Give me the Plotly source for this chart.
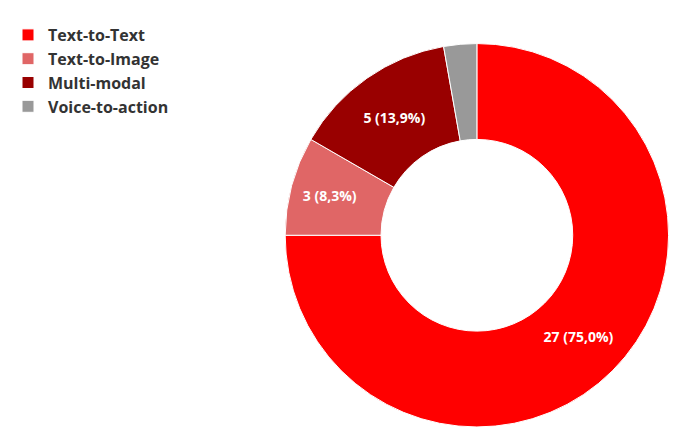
import plotly.graph_objects as go

categories = ["Text-to-Text", "Text-to-Image", "Multi-modal", "Voice-to-action"]
values = [27, 3, 5, 1]
labels = ["27 (75,0%)", "3 (8,3%)", "5 (13,9%)", ""]
colors = ["#ff0000", "#e06666", "#990000", "#999999"]

fig = go.Figure(go.Pie(
    labels=categories,
    values=values,
    text=labels,
    textinfo="text",
    textposition="inside",
    insidetextorientation="horizontal",
    textfont=dict(color="white", size=14, family="Open Sans", weight="bold"),
    marker=dict(colors=colors, line=dict(color="white", width=1)),
    hole=0.5,
    sort=False,
    direction="clockwise",
    rotation=0,
    domain=dict(x=[0.37, 0.995], y=[0.04, 0.94]),
))

fig.update_layout(
    width=687, height=441,
    margin=dict(l=0, r=0, t=10, b=5),
    paper_bgcolor="white",
    font=dict(family="Open Sans", size=16, color="#333333"),
    legend=dict(x=0.0, y=1.0, xanchor="left", yanchor="top",
                font=dict(size=16, color="#333333", weight="bold"),
                tracegroupgap=14, itemwidth=30),
    showlegend=True,
)

fig.write_html("out.html")
